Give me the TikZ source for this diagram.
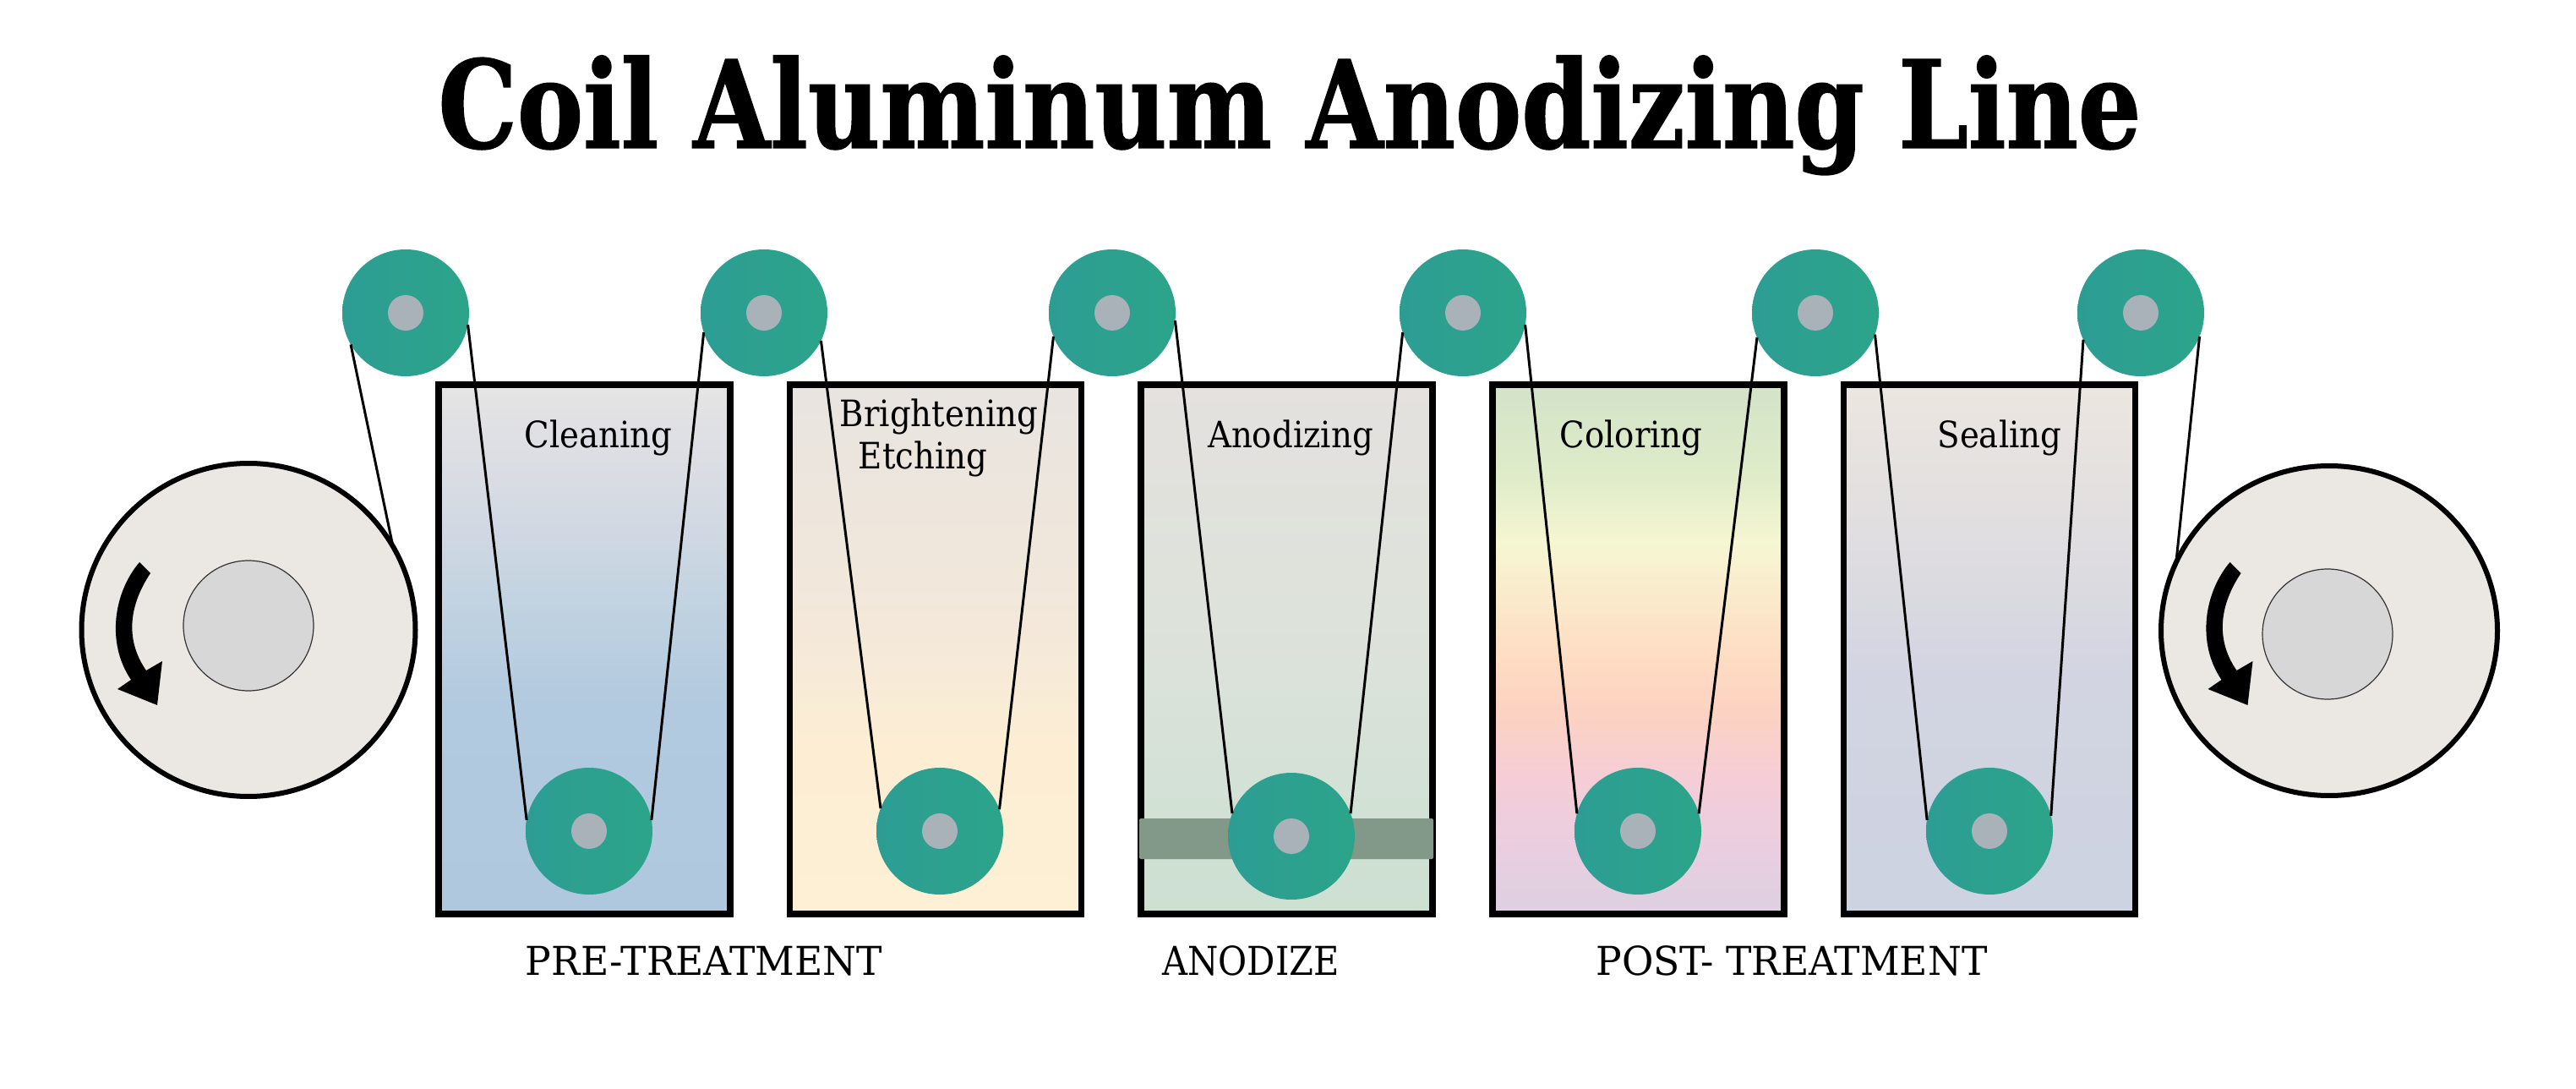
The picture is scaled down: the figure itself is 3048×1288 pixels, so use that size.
\documentclass[tikz,border=0pt]{standalone}
\usepackage{fontspec}
\usetikzlibrary{shapes.geometric}
\setmainfont{DejaVu Serif}
\newfontfamily\titlefont[FakeStretch=0.815,FakeBold=1]{DejaVu Serif Bold}
\newfontfamily\labelfont[FakeStretch=0.9]{DejaVu Serif}
\newfontfamily\groupfont[FakeStretch=0.97]{DejaVu Serif}
\newfontfamily\groupfontB[FakeStretch=0.885]{DejaVu Serif}
\definecolor{tealA}{HTML}{2D9D94}
\definecolor{tealB}{HTML}{2CA48A}
\definecolor{coreC}{HTML}{A9B1B9}
\definecolor{reelC}{HTML}{EBE8E4}
\definecolor{hubC}{HTML}{D8D7D8}
\definecolor{bandC}{HTML}{82998A}
% TikZ fits the band 25bp..75bp of a shading onto the path
\pgfdeclareverticalshading{tankone}{100bp}{color(0bp)=(rgb,255:red,175;green,200;blue,221);color(25bp)=(rgb,255:red,175;green,200;blue,221);color(45bp)=(rgb,255:red,178;green,202;blue,223);color(52.5bp)=(rgb,255:red,190;green,209;blue,224);color(62.5bp)=(rgb,255:red,211;green,217;blue,227);color(75bp)=(rgb,255:red,230;green,228;blue,228);color(100bp)=(rgb,255:red,230;green,228;blue,228)}
\pgfdeclareverticalshading{tanktwo}{100bp}{color(0bp)=(rgb,255:red,253;green,240;blue,213);color(25bp)=(rgb,255:red,253;green,240;blue,213);color(40bp)=(rgb,255:red,253;green,238;blue,211);color(52.5bp)=(rgb,255:red,243;green,232;blue,218);color(75bp)=(rgb,255:red,232;green,228;blue,224);color(100bp)=(rgb,255:red,232;green,228;blue,224)}
\pgfdeclareverticalshading{tankthree}{100bp}{color(0bp)=(rgb,255:red,204;green,224;blue,210);color(25bp)=(rgb,255:red,204;green,224;blue,210);color(50bp)=(rgb,255:red,220;green,226;blue,218);color(75bp)=(rgb,255:red,228;green,225;blue,222);color(100bp)=(rgb,255:red,228;green,225;blue,222)}
\pgfdeclareverticalshading{tankfour}{100bp}{color(0bp)=(rgb,255:red,220;green,208;blue,224);color(25bp)=(rgb,255:red,220;green,208;blue,224);color(31bp)=(rgb,255:red,233;green,206;blue,224);color(38bp)=(rgb,255:red,245;green,205;blue,214);color(44bp)=(rgb,255:red,252;green,210;blue,194);color(49bp)=(rgb,255:red,254;green,220;blue,195);color(60bp)=(rgb,255:red,246;green,246;blue,210);color(66bp)=(rgb,255:red,224;green,236;blue,201);color(75bp)=(rgb,255:red,211;green,227;blue,201);color(100bp)=(rgb,255:red,211;green,227;blue,201)}
\pgfdeclareverticalshading{tankfive}{100bp}{color(0bp)=(rgb,255:red,205;green,211;blue,225);color(25bp)=(rgb,255:red,205;green,211;blue,225);color(47.5bp)=(rgb,255:red,210;green,212;blue,225);color(60bp)=(rgb,255:red,223;green,221;blue,224);color(75bp)=(rgb,255:red,236;green,230;blue,224);color(100bp)=(rgb,255:red,236;green,230;blue,224)}
\tikzset{
  x=0.5pt,y=-0.5pt,
  tank/.style={draw=black,line width=3.6pt,rectangle,inner sep=0pt,outer sep=0pt,
    minimum width=172.5pt,minimum height=313pt},
  pulley/.style={circle,inner sep=0pt,outer sep=0pt,minimum size=75pt,
    left color=tealA,right color=tealB},
  core/.style={circle,inner sep=0pt,outer sep=0pt,minimum size=21pt,fill=coreC},
  reel/.style={ellipse,draw=black,line width=3pt,fill=reelC,inner sep=0pt,outer sep=0pt},
  hub/.style={circle,draw=black!80,line width=0.6pt,fill=hubC,inner sep=0pt,outer sep=0pt,minimum size=77pt},
  belt/.style={draw=black,line width=1.5pt},
  tanklabel/.style={anchor=base,inner sep=0pt,font=\labelfont\fontsize{21.5}{21.5}\selectfont,text=black},
  grouplabel/.style={anchor=base,inner sep=0pt,font=\groupfont\fontsize{23.5}{23.5}\selectfont,text=black},
  grouplabelB/.style={anchor=base,inner sep=0pt,font=\groupfontB\fontsize{23.5}{23.5}\selectfont,text=black},
  band/.style={rectangle,fill=bandC,inner sep=0pt,outer sep=0pt,rounded corners=1pt,minimum width=174pt,minimum height=24pt},
  reelarrow/.pic={
    \fill[black] (165,665) .. controls (135,700) and (125,760) .. (155,804)
      -- (139,815) -- (186,834) -- (192,782) -- (173,793)
      .. controls (150,760) and (150,720) .. (178,678) -- cycle;
  }
}
\begin{document}
\begin{tikzpicture}
\useasboundingbox (0,0) rectangle (3048,1288);
\node[anchor=base,inner sep=0pt,font=\titlefont\fontsize{72}{72}\selectfont] (title) at (1526,175) {Coil Aluminum Anodizing Line};
% tanks
\node[tank,shading=tankone] (t1) at (691.5,768) {};
\node[tank,shading=tanktwo] (t2) at (1107,768) {};
\node[tank,shading=tankthree] (t3) at (1522.5,768) {};
\node[tank,shading=tankfour] (t4) at (1938.5,768) {};
\node[tank,shading=tankfive] (t5) at (2354,768) {};
\node[band] (bandA) at (1522,992) {};
% reels
\node[reel,minimum width=197.5pt,minimum height=197pt] (rl) at (294,745) {};
\node[hub] (hl) at (294,740) {};
\node[reel,minimum width=199pt,minimum height=195pt] (rr) at (2756,746) {};
\node[hub] (hr) at (2754,750) {};
\pic at (0,0) {reelarrow};
\pic at (2473.5,0) {reelarrow};
% pulleys
\foreach \n/\x/\y in {a/480/370,b/904/370,c/1316/370,d/1731/370,e/2148/370,f/2533/370,
    g/697/983,h/1112/983,i/1528/989,j/1938/983,k/2354/983}{
  \node[pulley] (p\n) at (\x,\y) {};
  \node[core] (c\n) at (\x,\y) {};
}
% belt
\draw[belt] (rl.30) -- (pa.210);
\draw[belt] (pa.-11) -- (pg.170);
\draw[belt] (pg.10) -- (pb.198);
\draw[belt] (pb.-26) -- (ph.159);
\draw[belt] (ph.20) -- (pc.202);
\draw[belt] (pc.-7) -- (pi.159);
\draw[belt] (pi.21) -- (pd.198);
\draw[belt] (pd.-11) -- (pj.164);
\draw[belt] (pj.16) -- (pe.203);
\draw[belt] (pe.-20) -- (pk.170);
\draw[belt] (pk.14) -- (pf.205);
\draw[belt] (pf.-22) -- (rr.156);
% labels
\node[tanklabel] (l1) at (708,530) {Cleaning};
\node[tanklabel] (l2a) at (1111,505) {Brightening};
\node[tanklabel] (l2b) at (1092,555) {Etching};
\node[tanklabel] (l3) at (1527,530) {Anodizing};
\node[tanklabel] (l4) at (1930,530) {Coloring};
\node[tanklabel] (l5) at (2366,530) {Sealing};
\node[grouplabel] (g1) at (833,1153) {PRE-TREATMENT};
\node[grouplabelB] (g2) at (1480,1153) {ANODIZE};
\node[grouplabel] (g3) at (2120,1153) {POST- TREATMENT};
\end{tikzpicture}
\end{document}
